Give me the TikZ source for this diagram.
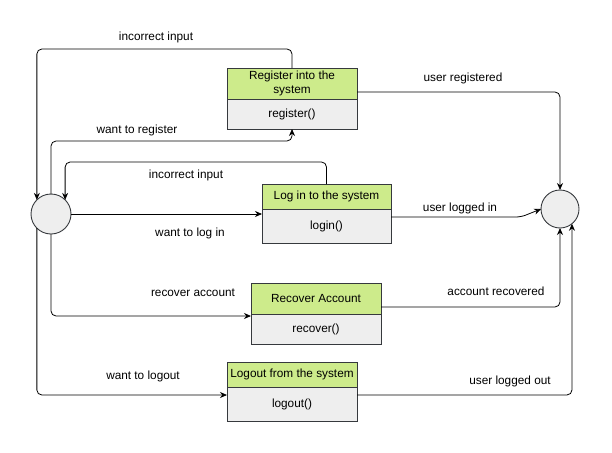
\documentclass[tikz,border=0pt]{standalone}
\usepackage{fontspec}
\setmainfont{Liberation Sans}
\usetikzlibrary{positioning}
\usetikzlibrary{calc}
\usetikzlibrary{arrows.meta}
\definecolor{headgreen}{HTML}{CDEB8B}
\definecolor{bodygray}{HTML}{EEEEEE}
\definecolor{edgegray}{HTML}{36393D}
\tikzset{
  box/.style    = { rectangle, minimum width=130pt, inner sep=0pt, outer sep=0pt, align=center },
  border/.style = { draw=edgegray, line width=0.9pt },
  head/.style   = { box, border, fill=headgreen },
  body/.style   = { box, border, fill=bodygray },
  state/.style  = { circle, border, fill=bodygray, inner sep=0pt, outer sep=0pt },
  note/.style   = { inner sep=0pt },
  flow/.style   = { ->, rounded corners=5pt }
}

\begin{document}
\begin{tikzpicture}[
  x=1pt,y=-1pt,
  >={Stealth[length=7pt,width=6pt]},line width=0.8pt,
  font=\fontsize{11.8}{14}\selectfont
]
  \useasboundingbox (0,0) rectangle (612,452);

  \node (start)   [state,minimum size=40pt]                      at (51,214)    {};
  \node (end)     [state,minimum size=38pt]                      at (560,209)   {};

  \node (reghead) [head,minimum height=31pt]                     at (292,83.5)  {Register into the\\system};
  \node (regbody) [body,minimum height=30pt,below=0pt of reghead]               {register()};
  \node (loghead) [head,minimum height=25pt,minimum width=129pt] at (326.5,196.5) {Log in to the system};
  \node (logbody) [body,minimum height=34pt,minimum width=129pt,below=0pt of loghead] {login()};
  \node (rechead) [head,minimum height=31pt]                     at (316,298.5) {Recover Account};
  \node (recbody) [body,minimum height=30pt,below=0pt of rechead]               {recover()};
  \node (outhead) [head,minimum height=25pt]                     at (292,374.5) {Logout from the system};
  \node (outbody) [body,minimum height=34pt,below=0pt of outhead]               {logout()};

  \draw [flow] (reghead.north) -- ++(0,-19) -| (start.north west);
  \draw [flow] (start.north)   -- ++(0,-53) -| (regbody.south);
  \draw [flow] (loghead.north) -- ++(0,-22) -| (start.north east);
  \draw [flow] (start.east)    -- (start.east -| loghead.west);
  \draw [flow] (start.south)      |- ($(rechead.south west)+(0,2)$);
  \draw [flow] (start.south west) |- ($(outhead.south west)+(0,8)$);
  \draw [flow] ($(reghead.south east)+(0,-7)$) -| (end.north);
  \draw [flow] ($(loghead.south east)+(0,8)$)  -- ++(130,0) -- (end.west);
  \draw [flow] ($(rechead.south east)+(0,-7)$) -| (end.south);
  \draw [flow] ($(outhead.south east)+(0,8)$)  -| (end.-51);

  \node (badreg)  [note] at (156,37)  {incorrect input};
  \node (wantreg) [note] at (137,130) {want to register};
  \node (badlog)  [note] at (186,175) {incorrect input};
  \node (wantlog) [note] at (190,233) {want to log in};
  \node (wantrec) [note] at (193,293) {recover account};
  \node (wantout) [note] at (143,376) {want to logout};
  \node (donereg) [note] at (463,78)  {user registered};
  \node (donelog) [note] at (460,208) {user logged in};
  \node (donerec) [note] at (496,291) {account recovered};
  \node (doneout) [note] at (510,381) {user logged out};
\end{tikzpicture}
\end{document}
